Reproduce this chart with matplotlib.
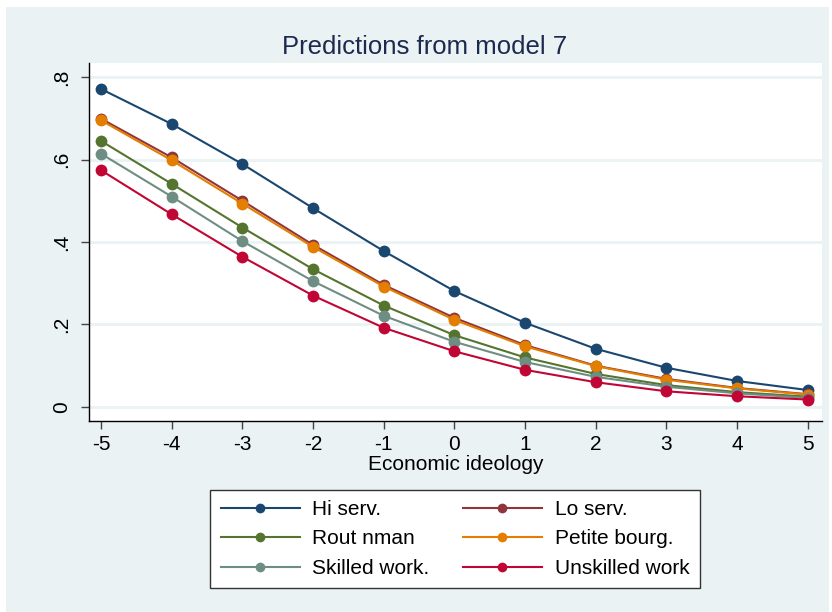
import matplotlib
matplotlib.use("Agg")
import matplotlib.pyplot as plt
from matplotlib.patches import Rectangle

plt.rcParams["font.family"] = ["Liberation Sans", "DejaVu Sans"]

# economic ideology scores
ideology = [-5, -4, -3, -2, -1, 0, 1, 2, 3, 4, 5]

# predicted probabilities by class
hi_serv = [0.771, 0.686, 0.589, 0.482, 0.378, 0.281, 0.204, 0.141, 0.095, 0.063, 0.041]
lo_serv = [0.699, 0.605, 0.500, 0.393, 0.296, 0.216, 0.150, 0.100, 0.068, 0.046, 0.031]
rout_nman = [0.645, 0.541, 0.435, 0.334, 0.246, 0.174, 0.120, 0.080, 0.053, 0.036, 0.025]
petite_bourg = [0.695, 0.598, 0.493, 0.388, 0.292, 0.211, 0.147, 0.099, 0.066, 0.045, 0.030]
skilled_work = [0.614, 0.510, 0.402, 0.305, 0.221, 0.158, 0.109, 0.073, 0.049, 0.033, 0.022]
unskilled_work = [0.574, 0.467, 0.364, 0.270, 0.192, 0.135, 0.090, 0.060, 0.038, 0.026, 0.018]

labels = ["Hi serv.", "Lo serv.", "Rout nman", "Petite bourg.", "Skilled work.", "Unskilled work"]
colors = ["#1a476f", "#90353b", "#55752f", "#e37e00", "#6e8e84", "#c10534"]
series = [hi_serv, lo_serv, rout_nman, petite_bourg, skilled_work, unskilled_work]

y_ticks = [0, 0.2, 0.4, 0.6, 0.8]
y_ticklabels = ["0", ".2", ".4", ".6", ".8"]

W, H = 832, 612
bg = "#eaf2f3"

fig = plt.figure(figsize=(W / 100, H / 100), dpi=100, facecolor="white")
fig.patches.append(Rectangle((6 / W, 0), (829 - 6) / W, (H - 7) / H,
                             transform=fig.transFigure, facecolor=bg,
                             edgecolor="none", zorder=-10))

ax = fig.add_axes([89 / W, 1 - 421 / H, (822 - 89) / W, (421 - 63) / H])
ax.set_facecolor("white")

lines = []
for vals, lab, col in zip(series, labels, colors):
    ln, = ax.plot(ideology, vals, color=col, lw=1.5, marker="o", ms=8.5,
                  markeredgewidth=0, label=lab, zorder=3)
    lines.append(ln)

ax.set_xlim(-5.17, 5.2)
ax.set_ylim(-0.034, 0.834)
ax.set_xticks(ideology)
ax.set_xticklabels([str(v) for v in ideology])
ax.set_yticks(y_ticks)
ax.set_yticklabels(y_ticklabels, rotation=90, va="center")
ax.grid(axis="y", color=bg, lw=2, zorder=1)
ax.set_axisbelow(True)

for s in ["top", "right"]:
    ax.spines[s].set_visible(False)
for s in ["left", "bottom"]:
    ax.spines[s].set_color("black")
    ax.spines[s].set_linewidth(1)
ax.tick_params(axis="both", direction="out", length=6, width=1,
               color="#444444", labelsize=15, pad=4)
ax.tick_params(axis="y", pad=7)

ax.set_xlabel("Economic ideology", fontsize=15, labelpad=1)

fig.text(425 / W, 1 - 47 / H, "Predictions from model 7", ha="center",
         va="center", fontsize=18.5, color="#1c2a4f")

order = [0, 2, 4, 1, 3, 5]
leg = fig.legend([lines[i] for i in order], [labels[i] for i in order],
                 loc="center", bbox_to_anchor=(455 / W, 1 - 539 / H), ncol=2,
                 fontsize=15, frameon=True, fancybox=False, handlelength=3.8,
                 columnspacing=1.6, labelspacing=0.5, handletextpad=0.6,
                 borderpad=0.5, borderaxespad=0)
leg.get_frame().set_edgecolor("#333333")
leg.get_frame().set_facecolor("white")
leg.get_frame().set_alpha(1)
leg.get_frame().set_linewidth(1)
for h in leg.legend_handles:
    h.set_markersize(7)

fig.savefig("out.png", dpi=100, facecolor="white")
